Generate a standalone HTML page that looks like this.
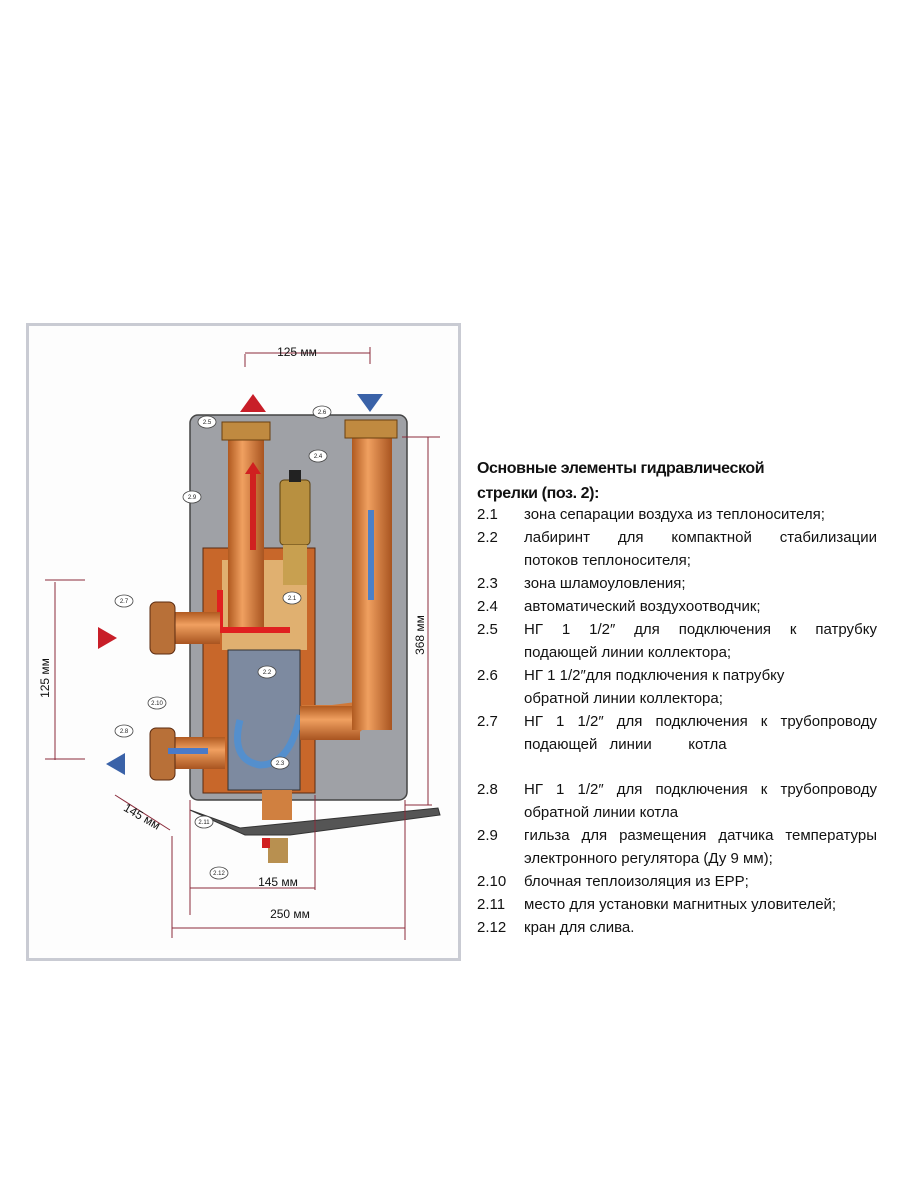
<!DOCTYPE html>
<html><head><meta charset="utf-8"><style>
body{margin:0;width:900px;height:1200px;background:#fff;position:relative;overflow:hidden;font-family:"Liberation Sans","DejaVu Sans",sans-serif}
#box{position:absolute;left:26px;top:323px;width:429px;height:632px;border:3px solid #c9cbd3;background:#fdfdfd}
.t{position:absolute;left:477px;top:503px;font-size:15px;color:#111;line-height:23px;width:400px}
.r{position:relative;height:23px;white-space:nowrap}
.n{position:absolute;left:0}
.x{position:absolute;left:47px;width:353px}
.j{text-align:justify;text-align-last:justify}
h3{position:absolute;left:477px;top:456px;margin:0;font-size:16px;line-height:25px;font-weight:bold;color:#111;letter-spacing:-0.4px}
</style></head><body>
<div id="box"></div>
<svg width="900" height="1200" style="position:absolute;left:0;top:0" font-family="Liberation Sans, sans-serif">
<defs>
<linearGradient id="cu" x1="0" x2="1"><stop offset="0" stop-color="#b05a20"/><stop offset=".4" stop-color="#f0a060"/><stop offset="1" stop-color="#a85420"/></linearGradient>
<linearGradient id="cuh" x1="0" y1="0" x2="0" y2="1"><stop offset="0" stop-color="#b05a20"/><stop offset=".4" stop-color="#f0a060"/><stop offset="1" stop-color="#a85420"/></linearGradient>
</defs>
<rect x="190" y="415" width="217" height="385" rx="8" fill="#9fa1a6" stroke="#444" stroke-width="1.5"/>
<rect x="203" y="548" width="112" height="245" fill="#c8672a" stroke="#5a2a10"/>
<rect x="222" y="560" width="85" height="90" fill="#e0b070"/>
<rect x="228" y="650" width="72" height="140" fill="#7d8aa0" stroke="#333"/>
<path d="M240 720 q-10 40 20 45 q30 0 40-50" stroke="#4a90d8" stroke-width="7" fill="none" opacity=".8"/>
<rect x="228" y="430" width="36" height="200" fill="url(#cu)"/>
<rect x="222" y="422" width="48" height="18" fill="#c08a40" stroke="#6a4010"/>
<rect x="250" y="470" width="6" height="80" fill="#d02020"/>
<polygon points="253,462 245,474 261,474" fill="#d02020"/>
<path d="M220 590 v40 h70" stroke="#e02020" stroke-width="6" fill="none"/>
<rect x="280" y="480" width="30" height="65" rx="4" fill="#b89040" stroke="#5a4010"/>
<rect x="289" y="470" width="12" height="12" fill="#222"/>
<rect x="283" y="545" width="24" height="40" fill="#c8a050"/>
<rect x="352" y="428" width="40" height="280" fill="url(#cu)"/>
<rect x="345" y="420" width="52" height="18" fill="#c08a40" stroke="#6a4010"/>
<path d="M372 700 q0 40 -40 40 h-30 v-35 h30 z" fill="#d07838"/>
<rect x="300" y="706" width="60" height="34" fill="url(#cuh)"/>
<rect x="352" y="680" width="40" height="50" fill="url(#cu)"/>
<rect x="368" y="510" width="6" height="90" fill="#4a80c8"/>
<rect x="170" y="612" width="50" height="32" fill="url(#cuh)"/>
<rect x="150" y="602" width="25" height="52" rx="6" fill="#b87038" stroke="#5a2a10"/>
<rect x="170" y="737" width="55" height="32" fill="url(#cuh)"/>
<rect x="150" y="728" width="25" height="52" rx="6" fill="#b87038" stroke="#5a2a10"/>
<rect x="168" y="748" width="40" height="6" fill="#4a7ac8"/>
<rect x="262" y="790" width="30" height="30" fill="#d08040"/>
<rect x="268" y="838" width="20" height="25" fill="#b89050"/>
<rect x="262" y="838" width="8" height="10" fill="#d02020"/>
<path d="M190 810 L245 835 H290 L440 815 L438 808 L240 828 Z" fill="#555" stroke="#333"/>
<polygon points="253,394 240,412 266,412" fill="#c81e28"/>
<polygon points="370,412 357,394 383,394" fill="#3a62a8"/>
<polygon points="117,638 98,627 98,649" fill="#c81e28"/>
<polygon points="106,764 125,753 125,775" fill="#3a62a8"/>
<g stroke="#8a2a3a" stroke-width="1" fill="none">
<path d="M245 354 V367 M370 347 V364 M245 353 H370"/>
<path d="M402 437 H440 M428 437 V805 M405 805 H432"/>
<path d="M55 582 V760 M45 580 H85 M45 759 H85"/>
<path d="M190 800 V915 M315 795 V890 M190 888 H315 M172 938 V836 M172 928 H405 M405 800 V940"/>
<path d="M115 795 L170 830"/>
</g>
<g font-size="12" fill="#111">
<text x="297" y="356" text-anchor="middle">125 мм</text>
<text x="278" y="886" text-anchor="middle">145 мм</text>
<text x="290" y="918" text-anchor="middle">250 мм</text>
<text transform="translate(424,635) rotate(-90)" text-anchor="middle">368 мм</text>
<text transform="translate(49,678) rotate(-90)" text-anchor="middle">125 мм</text>
<text transform="translate(140,820) rotate(30)" text-anchor="middle">145 мм</text>
</g>
<g font-size="6" fill="#222" stroke-width="0.8">
<g stroke="#444" fill="#fff">
<ellipse cx="207" cy="422" rx="9" ry="6"/><ellipse cx="322" cy="412" rx="9" ry="6"/>
<ellipse cx="318" cy="456" rx="9" ry="6"/><ellipse cx="192" cy="497" rx="9" ry="6"/>
<ellipse cx="292" cy="598" rx="9" ry="6"/><ellipse cx="124" cy="601" rx="9" ry="6"/>
<ellipse cx="267" cy="672" rx="9" ry="6"/><ellipse cx="157" cy="703" rx="9" ry="6"/>
<ellipse cx="124" cy="731" rx="9" ry="6"/><ellipse cx="280" cy="763" rx="9" ry="6"/>
<ellipse cx="204" cy="822" rx="9" ry="6"/><ellipse cx="219" cy="873" rx="9" ry="6"/>
</g>
<text x="207" y="424" text-anchor="middle">2.5</text><text x="322" y="414" text-anchor="middle">2.6</text>
<text x="318" y="458" text-anchor="middle">2.4</text><text x="192" y="499" text-anchor="middle">2.9</text>
<text x="292" y="600" text-anchor="middle">2.1</text><text x="124" y="603" text-anchor="middle">2.7</text>
<text x="267" y="674" text-anchor="middle">2.2</text><text x="157" y="705" text-anchor="middle">2.10</text>
<text x="124" y="733" text-anchor="middle">2.8</text><text x="280" y="765" text-anchor="middle">2.3</text>
<text x="204" y="824" text-anchor="middle">2.11</text><text x="219" y="875" text-anchor="middle">2.12</text>
</g>
</svg>
<h3>Основные элементы гидравлической<br>стрелки (поз. 2):</h3>
<div class="t">
<div class="r"><span class="n">2.1</span><span class="x">зона сепарации воздуха из теплоносителя;</span></div>
<div class="r"><span class="n">2.2</span><span class="x j">лабиринт для компактной стабилизации</span></div>
<div class="r"><span class="x">потоков теплоносителя;</span></div>
<div class="r"><span class="n">2.3</span><span class="x">зона шламоуловления;</span></div>
<div class="r"><span class="n">2.4</span><span class="x">автоматический воздухоотводчик;</span></div>
<div class="r"><span class="n">2.5</span><span class="x j">НГ 1 1/2″ для подключения к патрубку</span></div>
<div class="r"><span class="x">подающей линии коллектора;</span></div>
<div class="r"><span class="n">2.6</span><span class="x">НГ 1 1/2″для подключения к патрубку</span></div>
<div class="r"><span class="x">обратной линии коллектора;</span></div>
<div class="r"><span class="n">2.7</span><span class="x j">НГ 1 1/2″ для подключения к трубопроводу</span></div>
<div class="r"><span class="x" style="word-spacing:8px">подающей линии &nbsp; котла</span></div>
<div class="r" style="height:22px"></div>
<div class="r"><span class="n">2.8</span><span class="x j">НГ 1 1/2″ для подключения к трубопроводу</span></div>
<div class="r"><span class="x">обратной линии котла</span></div>
<div class="r"><span class="n">2.9</span><span class="x j">гильза для размещения датчика температуры</span></div>
<div class="r"><span class="x">электронного регулятора (Ду 9 мм);</span></div>
<div class="r"><span class="n">2.10</span><span class="x">блочная теплоизоляция из EPP;</span></div>
<div class="r"><span class="n">2.11</span><span class="x">место для установки магнитных уловителей;</span></div>
<div class="r"><span class="n">2.12</span><span class="x">кран для слива.</span></div>
</div>
</body></html>
